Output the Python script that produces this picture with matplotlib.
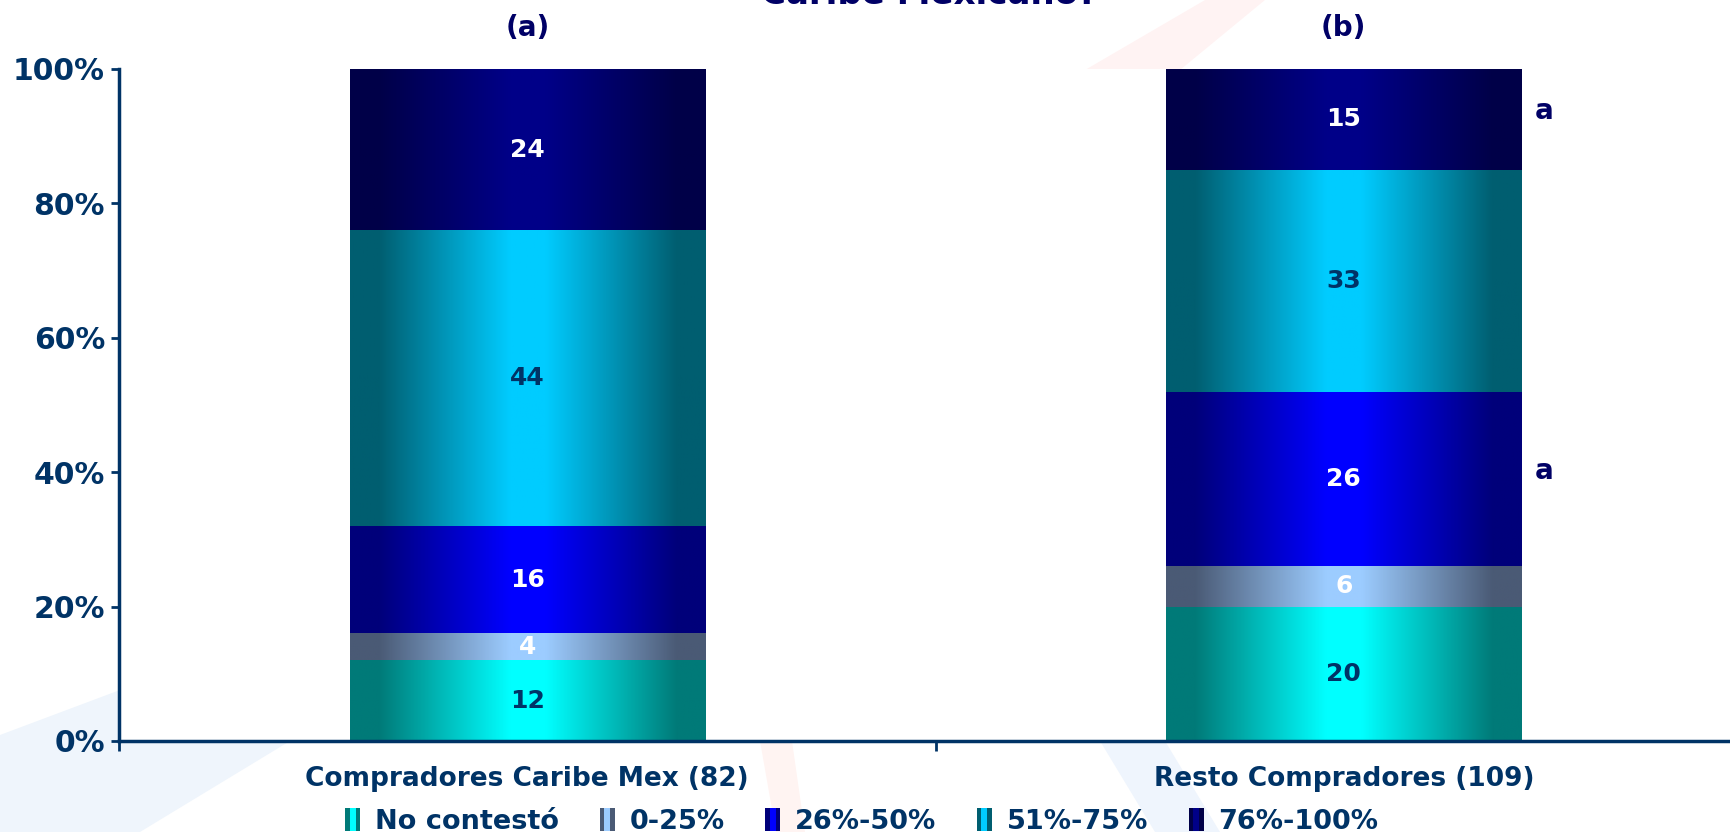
import matplotlib.pyplot as plt
import numpy as np
from matplotlib.colors import LinearSegmentedColormap
from matplotlib.patches import Rectangle, Polygon
from matplotlib.legend_handler import HandlerBase

# data
groups = ["Compradores Caribe Mex (82)", "Resto Compradores (109)"]
series = ["No contestó", "0-25%", "26%-50%", "51%-75%", "76%-100%"]
no_contesto = [12, 20]
de_0_25 = [4, 6]
de_26_50 = [16, 26]
de_51_75 = [44, 33]
de_76_100 = [24, 15]
panel_tags = ["(a)", "(b)"]
# significance letters: (group index, series index, text)
sig_marks = [(1, 4, "a"), (1, 2, "a")]

values = [no_contesto, de_0_25, de_26_50, de_51_75, de_76_100]
dark_cols = ["#007a78", "#4a5a75", "#00007a", "#005e70", "#000048"]
light_cols = ["#00ffff", "#9cccff", "#0000ff", "#00ccff", "#000088"]
label_cols = ["#003366", "white", "white", "#003366", "white"]
navy = "#003366"
ink = "#000066"

plt.rcParams["font.family"] = "DejaVu Sans"
plt.rcParams["font.weight"] = "bold"

fig = plt.figure(figsize=(17.3, 8.32), dpi=100)
W, H = 1730.0, 832.0


def px(pts):
    return [(x / W, 1 - y / H) for x, y in pts]


# faint watermark swooshes behind everything
for pts, c in [([(1085, 70), (1180, 70), (1265, 0), (1205, 0)], "#fff3f3"),
               ([(760, 741), (792, 741), (805, 832), (776, 832)], "#fff4f2"),
               ([(1100, 741), (1165, 741), (1220, 832), (1155, 832)], "#eff5fd"),
               ([(0, 735), (120, 690), (290, 741), (140, 832), (0, 832)], "#eff5fc")]:
    fig.patches.append(Polygon(px(pts), closed=True, transform=fig.transFigure,
                               fc=c, ec="none", zorder=-5))

ax = fig.add_axes([119 / W, 1 - 741 / H, (1752 - 119) / W, (741 - 69) / H])
ax.set_facecolor("white")

x = np.arange(len(groups))
width = 0.435
grad = np.linspace(0, 1, 256).reshape(1, -1)
bottom = np.zeros(len(groups))
for i, vals in enumerate(values):
    bars = ax.bar(x, vals, width, bottom=bottom, color="none", edgecolor="none", label=series[i])
    cmap = LinearSegmentedColormap.from_list(
        "g%d" % i, [(0, dark_cols[i]), (0.08, dark_cols[i]), (0.45, light_cols[i]),
                    (0.55, light_cols[i]), (0.92, dark_cols[i]), (1, dark_cols[i])])
    for j, b in enumerate(bars):
        x0, y0 = b.get_x(), b.get_y()
        ax.imshow(grad, cmap=cmap, aspect="auto", zorder=2,
                  extent=[x0, x0 + b.get_width(), y0, y0 + b.get_height()])
        ax.text(x[j], bottom[j] + vals[j] / 2, str(vals[j]), ha="center", va="center",
                fontsize=18, fontweight="bold", color=label_cols[i], zorder=3)
    bottom = bottom + np.array(vals)

# significance letters beside the segments of bar (b)
cum = np.cumsum(np.array(values), axis=0)
for g, s, t in sig_marks:
    mid = cum[s][g] - values[s][g] / 2
    ax.text(x[g] + width / 2 + 0.016, mid + 1.2, t, ha="left", va="center",
            fontsize=20, fontweight="bold", color=ink, zorder=3)

ax.set_xlim(-0.5, 1.5)
ax.set_ylim(0, 100)

ax.set_yticks([0, 20, 40, 60, 80, 100])
ax.set_yticklabels(["0%", "20%", "40%", "60%", "80%", "100%"])
ax.tick_params(axis="y", labelsize=21.5, colors=navy, length=6, width=2, pad=4)

ax.set_xticks(x)
ax.set_xticklabels(groups)
ax.set_xticks([-0.5, 0.5, 1.5], minor=True)
ax.tick_params(axis="x", which="major", length=0, labelsize=19, colors=navy, pad=18)
ax.tick_params(axis="x", which="minor", length=7, width=2, colors=navy)
for lab in ax.get_xticklabels() + ax.get_yticklabels():
    lab.set_fontweight("bold")

for side in ["top", "right"]:
    ax.spines[side].set_visible(False)
for side in ["left", "bottom"]:
    ax.spines[side].set_color(navy)
    ax.spines[side].set_linewidth(2.5)

# panel tags and the title, cropped at the top edge as in the original
for j, tag in enumerate(panel_tags):
    ax.text(x[j], 1 + 41 / 672, tag, transform=ax.get_xaxis_transform(), ha="center", va="center",
            fontsize=20, fontweight="bold", color=ink)
fig.text(929 / W, 1 - 4 / H, "Caribe Mexicano?", ha="center", va="baseline",
         fontsize=24.5, fontweight="bold", color=ink)


class StripeHandler(HandlerBase):
    def __init__(self, dark, light):
        super().__init__()
        self.dark, self.light = dark, light

    def create_artists(self, legend, orig_handle, xdescent, ydescent, width, height, fontsize, trans):
        h = height * 1.1
        y0 = -ydescent + (height - h) / 2
        parts = [(0, 0.3, self.dark), (0.3, 0.4, self.light), (0.7, 0.3, self.dark)]
        return [Rectangle((-xdescent + a * width, y0), b * width, h, fc=c, ec="none", transform=trans)
                for a, b, c in parts]


handles = [Rectangle((0, 0), 1, 1) for _ in series]
hmap = {h: StripeHandler(dark_cols[i], light_cols[i]) for i, h in enumerate(handles)}
leg = fig.legend(handles, series, handler_map=hmap, loc="center", bbox_to_anchor=(862 / W, 1 - 822 / H),
                 ncol=5, frameon=False, fontsize=19.5, handlelength=0.55, handleheight=0.8,
                 handletextpad=0.55, columnspacing=1.5, borderpad=0)
for t in leg.get_texts():
    t.set_color(navy)
    t.set_fontweight("bold")

fig.savefig("out.png", dpi=100, facecolor="white")
